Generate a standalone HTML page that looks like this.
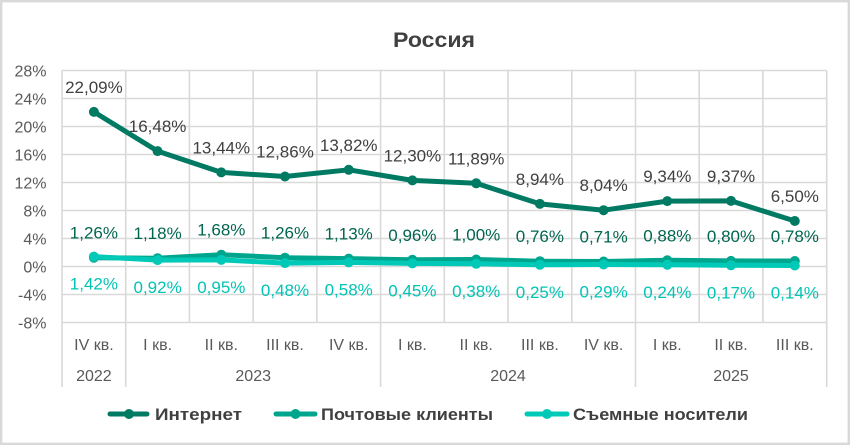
<!DOCTYPE html>
<html><head><meta charset="utf-8"><style>
html,body{margin:0;padding:0;background:#fff;}
svg{display:block;}
text{font-family:"Liberation Sans",sans-serif;}
</style></head><body>
<svg width="851" height="446" viewBox="0 0 851 446" xmlns="http://www.w3.org/2000/svg">
<rect x="0" y="0" width="851" height="446" fill="#fff"/>
<rect x="1.2" y="1.2" width="847.6" height="442.6" fill="none" stroke="#d9d9d9" stroke-width="2.4"/>
<text x="434" y="47" text-anchor="middle" font-size="21" font-weight="bold" fill="#404040" textLength="82" lengthAdjust="spacingAndGlyphs">Россия</text>
<g stroke="#d9d9d9" stroke-width="1.6">
<line x1="62" y1="70.5" x2="826.7" y2="70.5"/>
<line x1="62" y1="98.5" x2="826.7" y2="98.5"/>
<line x1="62" y1="126.5" x2="826.7" y2="126.5"/>
<line x1="62" y1="154.5" x2="826.7" y2="154.5"/>
<line x1="62" y1="182.5" x2="826.7" y2="182.5"/>
<line x1="62" y1="210.5" x2="826.7" y2="210.5"/>
<line x1="62" y1="238.5" x2="826.7" y2="238.5"/>
<line x1="62" y1="266.5" x2="826.7" y2="266.5"/>
<line x1="62" y1="294.5" x2="826.7" y2="294.5"/>
<line x1="62" y1="322.5" x2="826.7" y2="322.5"/>
<line x1="62" y1="70.5" x2="62" y2="387"/>
<line x1="125.7" y1="70.5" x2="125.7" y2="387"/>
<line x1="189.4" y1="70.5" x2="189.4" y2="322.5"/>
<line x1="253.2" y1="70.5" x2="253.2" y2="322.5"/>
<line x1="316.9" y1="70.5" x2="316.9" y2="322.5"/>
<line x1="380.6" y1="70.5" x2="380.6" y2="387"/>
<line x1="444.3" y1="70.5" x2="444.3" y2="322.5"/>
<line x1="508.0" y1="70.5" x2="508.0" y2="322.5"/>
<line x1="571.8" y1="70.5" x2="571.8" y2="322.5"/>
<line x1="635.5" y1="70.5" x2="635.5" y2="387"/>
<line x1="699.2" y1="70.5" x2="699.2" y2="322.5"/>
<line x1="762.9" y1="70.5" x2="762.9" y2="322.5"/>
<line x1="826.7" y1="70.5" x2="826.7" y2="387"/>
</g>
<g font-size="16" fill="#595959" text-anchor="end">
<text x="46.5" y="76.5">28%</text>
<text x="46.5" y="104.5">24%</text>
<text x="46.5" y="132.5">20%</text>
<text x="46.5" y="160.5">16%</text>
<text x="46.5" y="188.5">12%</text>
<text x="46.5" y="216.5">8%</text>
<text x="46.5" y="244.5">4%</text>
<text x="46.5" y="272.5">0%</text>
<text x="46.5" y="300.5">-4%</text>
<text x="46.5" y="328.5">-8%</text>
</g>
<g font-size="16" fill="#595959" text-anchor="middle">
<text x="93.9" y="350">IV кв.</text>
<text x="157.6" y="350">I кв.</text>
<text x="221.3" y="350">II кв.</text>
<text x="285.0" y="350">III кв.</text>
<text x="348.7" y="350">IV кв.</text>
<text x="412.4" y="350">I кв.</text>
<text x="476.2" y="350">II кв.</text>
<text x="539.9" y="350">III кв.</text>
<text x="603.6" y="350">IV кв.</text>
<text x="667.3" y="350">I кв.</text>
<text x="731.0" y="350">II кв.</text>
<text x="794.8" y="350">III кв.</text>
<text x="93.9" y="381">2022</text>
<text x="253.2" y="381">2023</text>
<text x="508.0" y="381">2024</text>
<text x="731.0" y="381">2025</text>
</g>
<!-- Internet -->
<polyline fill="none" stroke="#007a62" stroke-width="5" stroke-linejoin="round" stroke-linecap="round"
points="93.9,111.9 157.6,151.1 221.3,172.4 285.0,176.5 348.7,169.8 412.4,180.4 476.2,183.3 539.9,203.9 603.6,210.2 667.3,201.1 731.0,200.9 794.8,221.0"/>
<g fill="#007a62">
<circle cx="93.9" cy="111.9" r="5"/><circle cx="157.6" cy="151.1" r="5"/><circle cx="221.3" cy="172.4" r="5"/><circle cx="285.0" cy="176.5" r="5"/><circle cx="348.7" cy="169.8" r="5"/><circle cx="412.4" cy="180.4" r="5"/><circle cx="476.2" cy="183.3" r="5"/><circle cx="539.9" cy="203.9" r="5"/><circle cx="603.6" cy="210.2" r="5"/><circle cx="667.3" cy="201.1" r="5"/><circle cx="731.0" cy="200.9" r="5"/><circle cx="794.8" cy="221.0" r="5"/>
</g>
<!-- Post -->
<polyline fill="none" stroke="#00a58e" stroke-width="5" stroke-linejoin="round" stroke-linecap="round"
points="93.9,257.7 157.6,258.2 221.3,254.7 285.0,257.7 348.7,258.6 412.4,259.8 476.2,259.5 539.9,261.2 603.6,261.5 667.3,260.3 731.0,260.9 794.8,261.0"/>
<g fill="#00a58e">
<circle cx="93.9" cy="257.7" r="5"/><circle cx="157.6" cy="258.2" r="5"/><circle cx="221.3" cy="254.7" r="5"/><circle cx="285.0" cy="257.7" r="5"/><circle cx="348.7" cy="258.6" r="5"/><circle cx="412.4" cy="259.8" r="5"/><circle cx="476.2" cy="259.5" r="5"/><circle cx="539.9" cy="261.2" r="5"/><circle cx="603.6" cy="261.5" r="5"/><circle cx="667.3" cy="260.3" r="5"/><circle cx="731.0" cy="260.9" r="5"/><circle cx="794.8" cy="261.0" r="5"/>
</g>
<!-- Removable -->
<polyline fill="none" stroke="#00c9b7" stroke-width="5" stroke-linejoin="round" stroke-linecap="round"
points="93.9,256.6 157.6,260.1 221.3,259.9 285.0,263.1 348.7,262.4 412.4,263.4 476.2,263.8 539.9,264.8 603.6,264.5 667.3,264.8 731.0,265.3 794.8,265.5"/>
<g fill="#00c9b7">
<circle cx="93.9" cy="256.6" r="5"/><circle cx="157.6" cy="260.1" r="5"/><circle cx="221.3" cy="259.9" r="5"/><circle cx="285.0" cy="263.1" r="5"/><circle cx="348.7" cy="262.4" r="5"/><circle cx="412.4" cy="263.4" r="5"/><circle cx="476.2" cy="263.8" r="5"/><circle cx="539.9" cy="264.8" r="5"/><circle cx="603.6" cy="264.5" r="5"/><circle cx="667.3" cy="264.8" r="5"/><circle cx="731.0" cy="265.3" r="5"/><circle cx="794.8" cy="265.5" r="5"/>
</g>
<!-- Internet labels -->
<g font-size="17" fill="#404040" text-anchor="middle">
<text x="93.9" y="92.9">22,09%</text>
<text x="157.6" y="132.1">16,48%</text>
<text x="221.3" y="153.4">13,44%</text>
<text x="285.0" y="157.5">12,86%</text>
<text x="348.7" y="150.8">13,82%</text>
<text x="412.4" y="161.4">12,30%</text>
<text x="476.2" y="164.3">11,89%</text>
<text x="539.9" y="184.9">8,94%</text>
<text x="603.6" y="191.2">8,04%</text>
<text x="667.3" y="182.1">9,34%</text>
<text x="731.0" y="181.9">9,37%</text>
<text x="794.8" y="202.0">6,50%</text>
</g>
<!-- Post labels -->
<g font-size="17" fill="#00664f" text-anchor="middle">
<text x="93.9" y="238.7">1,26%</text>
<text x="157.6" y="239.2">1,18%</text>
<text x="221.3" y="235.7">1,68%</text>
<text x="285.0" y="238.7">1,26%</text>
<text x="348.7" y="239.6">1,13%</text>
<text x="412.4" y="240.8">0,96%</text>
<text x="476.2" y="240.5">1,00%</text>
<text x="539.9" y="242.2">0,76%</text>
<text x="603.6" y="242.5">0,71%</text>
<text x="667.3" y="241.3">0,88%</text>
<text x="731.0" y="241.9">0,80%</text>
<text x="794.8" y="242.0">0,78%</text>
</g>
<!-- Removable labels -->
<g font-size="17" fill="#00c4b4" text-anchor="middle">
<text x="93.9" y="289.6">1,42%</text>
<text x="157.6" y="293.1">0,92%</text>
<text x="221.3" y="292.9">0,95%</text>
<text x="285.0" y="296.1">0,48%</text>
<text x="348.7" y="295.4">0,58%</text>
<text x="412.4" y="296.4">0,45%</text>
<text x="476.2" y="296.8">0,38%</text>
<text x="539.9" y="297.8">0,25%</text>
<text x="603.6" y="297.5">0,29%</text>
<text x="667.3" y="297.8">0,24%</text>
<text x="731.0" y="298.3">0,17%</text>
<text x="794.8" y="298.5">0,14%</text>
</g>
<!-- Legend -->
<g stroke-width="5" stroke-linecap="round">
<line x1="110" y1="414" x2="147" y2="414" stroke="#007a62"/>
<line x1="276" y1="414" x2="315" y2="414" stroke="#00a58e"/>
<line x1="527" y1="414" x2="567" y2="414" stroke="#00c9b7"/>
</g>
<circle cx="129" cy="414" r="5" fill="#007a62"/>
<circle cx="295.5" cy="414" r="5" fill="#00a58e"/>
<circle cx="547" cy="414" r="5" fill="#00c9b7"/>
<g font-size="17" font-weight="bold" fill="#404040">
<text x="155" y="420" textLength="87" lengthAdjust="spacingAndGlyphs">Интернет</text>
<text x="321" y="420" textLength="172" lengthAdjust="spacingAndGlyphs">Почтовые клиенты</text>
<text x="573" y="420" textLength="175" lengthAdjust="spacingAndGlyphs">Съемные носители</text>
</g>
</svg>
</body></html>
